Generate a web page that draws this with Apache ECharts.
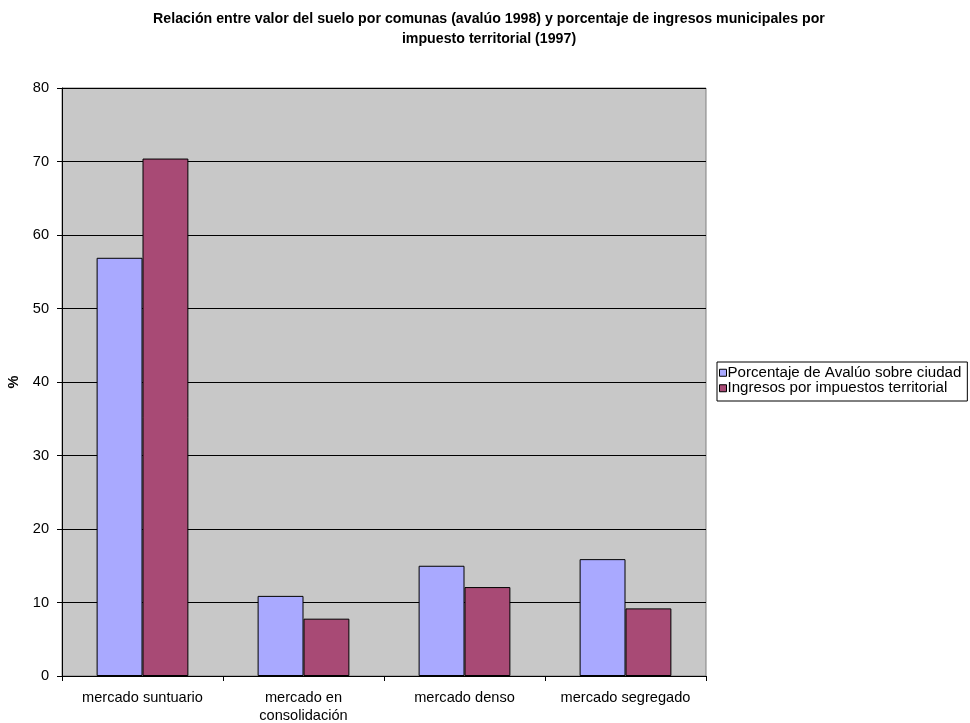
<!DOCTYPE html>
<html><head><meta charset="utf-8">
<script src="https://cdn.jsdelivr.net/npm/echarts@6/dist/echarts.min.js"></script>
<style>html,body{margin:0;padding:0;background:#fff}#c{width:970px;height:723px}</style>
</head><body><div id="c"></div>
<script>
const categories = ['mercado suntuario', 'mercado en\nconsolidación', 'mercado denso', 'mercado segregado'];
const avaluo = [56.9, 10.9, 15.0, 15.9];
const ingresos = [70.4, 7.8, 12.1, 9.2];
const seriesNames = ['Porcentaje de Avalúo sobre ciudad', 'Ingresos por impuestos territorial'];
const yTicks = {min: 0, max: 80, interval: 10};

const chart = echarts.init(document.getElementById('c'), null, {renderer: 'canvas'});
const F = 'Arial, "Liberation Sans", sans-serif';
chart.setOption({
  animation: false,
  title: {
    text: 'Relación entre valor del suelo por comunas (avalúo 1998) y porcentaje de ingresos municipales por\nimpuesto territorial (1997)',
    left: 484, top: 4, textAlign: 'center',
    textStyle: {fontFamily: F, fontSize: 14.2, fontWeight: 'bold', color: '#000', lineHeight: 20}
  },
  legend: {
    orient: 'vertical', left: 717, top: 362,
    itemWidth: 7, itemHeight: 7, itemGap: 0,
    padding: [3, 6, 5, 2],
    borderColor: '#000', borderWidth: 1,
    textStyle: {fontFamily: F, fontSize: 15.1, lineHeight: 15.5, color: '#000', padding: [0, 0, 0, -4]},
    data: seriesNames.map(n => ({name: n, icon: 'rect', itemStyle: {borderColor: '#000', borderWidth: 1}}))
  },
  grid: {left: 62, top: 88, width: 644, height: 588, outerBoundsMode: 'none', containLabel: false, backgroundColor: '#C8C8C8', show: true, borderColor: '#808080', borderWidth: 1},
  xAxis: {
    type: 'category', data: categories,
    axisLine: {lineStyle: {color: '#000'}},
    axisTick: {show: true, alignWithLabel: false, length: 5, lineStyle: {color: '#000'}},
    axisLabel: {fontFamily: F, fontSize: 14.6, color: '#000', margin: 13, lineHeight: 18, interval: 0}
  },
  yAxis: {
    type: 'value', min: yTicks.min, max: yTicks.max, interval: yTicks.interval,
    name: '%', nameLocation: 'middle', nameGap: 40, nameRotate: 90,
    nameTextStyle: {fontFamily: F, fontSize: 14.6, fontWeight: 'bold', color: '#000'},
    axisLine: {show: true, lineStyle: {color: '#000'}},
    axisTick: {show: true, length: 5, lineStyle: {color: '#000'}},
    axisLabel: {fontFamily: F, fontSize: 14.6, color: '#000', margin: 13},
    splitLine: {show: true, lineStyle: {color: '#000', width: 1}}
  },
  series: [
    {name: seriesNames[0], type: 'bar', data: avaluo, barGap: '0%', barCategoryGap: '43%',
     itemStyle: {color: '#A9A9FF', borderColor: '#000', borderWidth: 1}},
    {name: seriesNames[1], type: 'bar', data: ingresos, barGap: '0%', barCategoryGap: '43%',
     itemStyle: {color: '#A84A75', borderColor: '#000', borderWidth: 1}}
  ]
});
</script></body></html>
